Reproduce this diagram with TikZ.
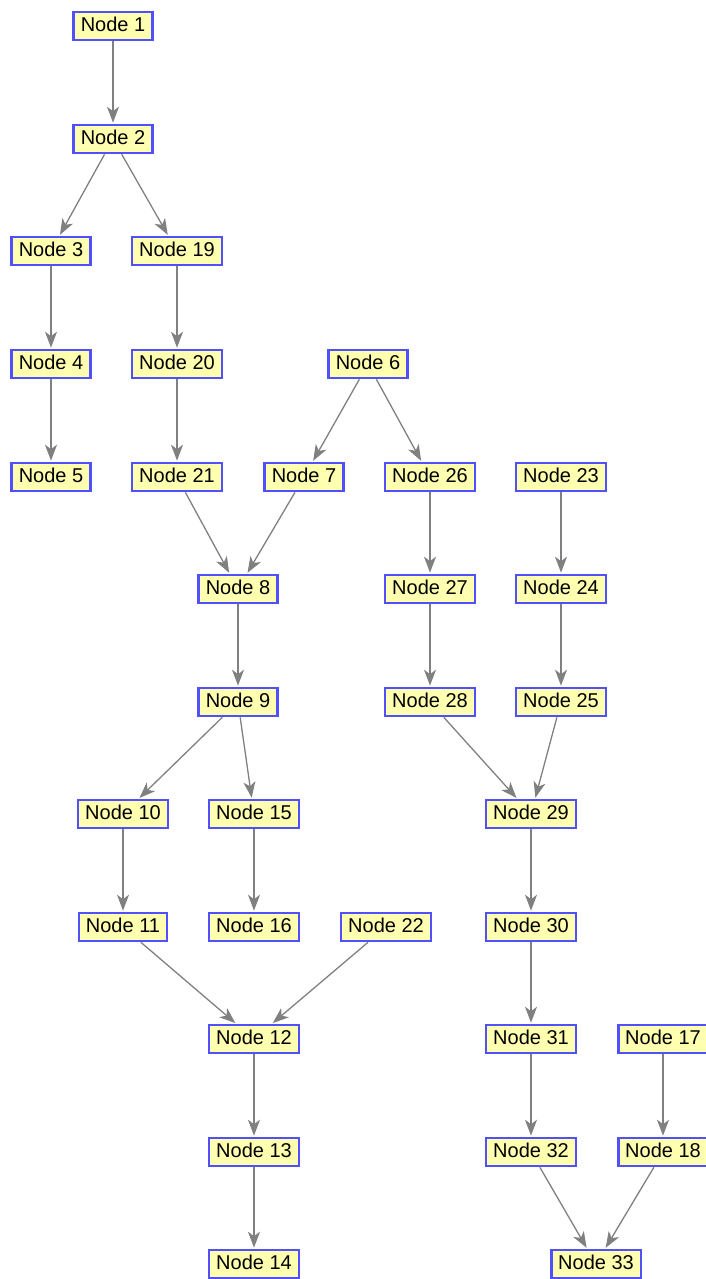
\documentclass[tikz,border=0pt]{standalone}
\usepackage{fontspec}
\setmainfont{Liberation Sans}
\usetikzlibrary{arrows.meta}
\definecolor{nodefill}{RGB}{255,255,176}
\definecolor{nodeborder}{RGB}{80,80,255}
\definecolor{edgegray}{RGB}{128,128,128}
\begin{document}
\begin{tikzpicture}[x=1pt,y=-1pt,
  nbox/.style={draw=nodeborder, fill=nodefill, line width=2.6pt, inner xsep=7pt, inner ysep=0pt,
    minimum height=28pt, text height=14.5pt, text depth=3.5pt, font=\fontsize{20}{23}\selectfont},
  edge/.style={draw=edgegray, line width=1.3pt, -{Stealth[length=16pt,width=12pt,inset=4.5pt]}, shorten >=1pt}]
\useasboundingbox (0,0) rectangle (706,1279);
\node[nbox] (n1) at (113,26) {Node 1};
\node[nbox] (n2) at (113,139) {Node 2};
\node[nbox] (n3) at (51,251) {Node 3};
\node[nbox] (n19) at (177,251) {Node 19};
\node[nbox] (n4) at (51,364) {Node 4};
\node[nbox] (n20) at (177,364) {Node 20};
\node[nbox] (n6) at (368,364) {Node 6};
\node[nbox] (n5) at (51,477) {Node 5};
\node[nbox] (n21) at (177,477) {Node 21};
\node[nbox] (n7) at (304,477) {Node 7};
\node[nbox] (n26) at (430,477) {Node 26};
\node[nbox] (n23) at (561,477) {Node 23};
\node[nbox] (n8) at (238,589) {Node 8};
\node[nbox] (n27) at (430,589) {Node 27};
\node[nbox] (n24) at (561,589) {Node 24};
\node[nbox] (n9) at (238,702) {Node 9};
\node[nbox] (n28) at (430,702) {Node 28};
\node[nbox] (n25) at (561,702) {Node 25};
\node[nbox] (n10) at (123,814) {Node 10};
\node[nbox] (n15) at (254,814) {Node 15};
\node[nbox] (n29) at (531,814) {Node 29};
\node[nbox] (n11) at (123,927) {Node 11};
\node[nbox] (n16) at (254,927) {Node 16};
\node[nbox] (n22) at (386,927) {Node 22};
\node[nbox] (n30) at (531,927) {Node 30};
\node[nbox] (n12) at (254,1039) {Node 12};
\node[nbox] (n31) at (531,1039) {Node 31};
\node[nbox] (n17) at (663,1039) {Node 17};
\node[nbox] (n13) at (254,1152) {Node 13};
\node[nbox] (n32) at (531,1152) {Node 32};
\node[nbox] (n18) at (663,1152) {Node 18};
\node[nbox] (n14) at (254,1264) {Node 14};
\node[nbox] (n33) at (596,1264) {Node 33};
\foreach \a/\b in {n1/n2,n2/n3,n2/n19,n3/n4,n4/n5,n19/n20,n20/n21,n6/n7,n6/n26,n21/n8,n7/n8,
  n26/n27,n27/n28,n23/n24,n24/n25,n8/n9,n9/n10,n9/n15,n28/n29,n25/n29,n10/n11,n15/n16,n29/n30,
  n11/n12,n22/n12,n30/n31,n12/n13,n31/n32,n17/n18,n13/n14,n32/n33,n18/n33}
  \draw[edge] (\a) -- (\b);
\end{tikzpicture}
\end{document}
